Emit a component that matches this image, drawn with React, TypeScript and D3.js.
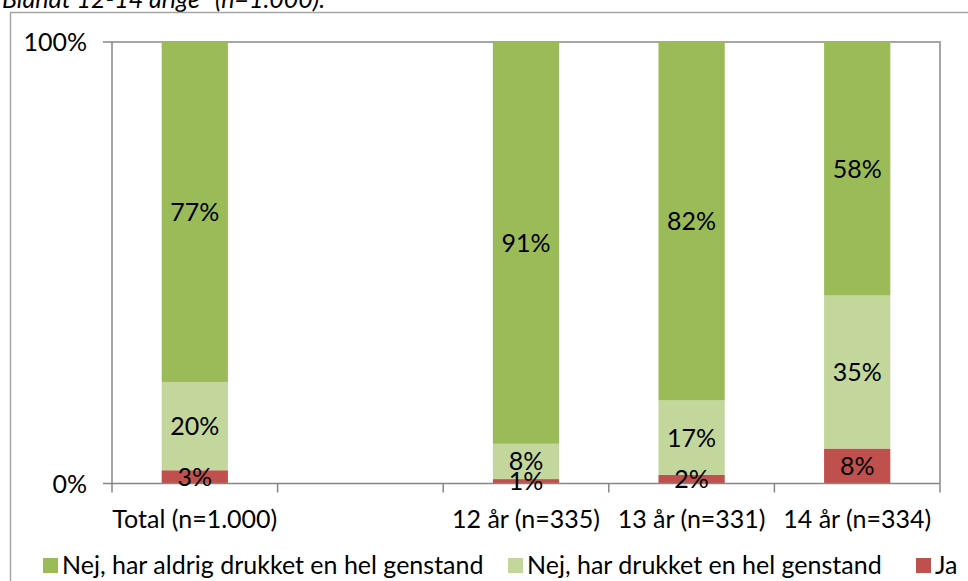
import React from "react";
import * as d3 from "d3";

const categories = ["Total (n=1.000)", "", "12 år (n=335)", "13 år (n=331)", "14 år (n=334)"];
const seriesNames = ["Ja", "Nej, har drukket en hel genstand", "Nej, har aldrig drukket en hel genstand"];
const jaValues = [3, 0, 1, 2, 8];
const drukketValues = [20, 0, 8, 17, 35];
const aldrigValues = [77, 0, 91, 82, 58];
const seriesColors = ["#C0504D", "#C3D69B", "#9BBB59"];
const yTickLabels = ["0%", "100%"];
const titleText = "Blandt 12-14 årige* (n=1.000).";

const W = 968;
const H = 581;
const M = { left: 112, right: 940, top: 42, bottom: 483.5 };
const FONT = "Lato, 'Open Sans', sans-serif";
const FS = 25;

export default function App() {
  const rows = categories.map((c, i) => ({
    cat: c,
    s0: jaValues[i],
    s1: drukketValues[i],
    s2: aldrigValues[i],
  }));
  const keys = ["s0", "s1", "s2"];
  const labelVals = [jaValues, drukketValues, aldrigValues];
  const stacked = d3.stack<any>().keys(keys).offset(d3.stackOffsetExpand)(rows);

  const x = d3.scaleBand<string>()
    .domain(categories.map((c, i) => i + ":" + c))
    .range([M.left, M.right])
    .paddingInner(0.6)
    .paddingOuter(0.3);
  const y = d3.scaleLinear().domain([0, 1]).range([M.bottom, M.top]);
  const step = x.step();
  const boundaries = d3.range(categories.length + 1).map((i) => M.left + i * step);

  const legendOrder = [2, 1, 0];
  const legendX = [43, 508, 916];

  return (
    <svg width={W} height={H} style={{ position: "absolute", left: 0, top: 0 }}>
      <rect x={0} y={0} width={W} height={H} fill="#fff" />
      <text x={2} y={8} fontFamily={FONT} fontStyle="italic" fontSize={FS} fill="#000">
        {titleText}
      </text>
      {/* outer chart frame */}
      <path d={`M10.5,${H + 5} V12.5 H${W + 5}`} fill="none" stroke="#A6A6A6" strokeWidth={1.5} />
      {/* plot area border */}
      <path d={`M${M.left},${M.top} H${M.right} V${M.bottom}`} fill="none" stroke="#A6A6A6" strokeWidth={2} />
      {/* bars */}
      {stacked.map((layer, si) => (
        <g key={si}>
          {layer.map((d, i) => {
            const total = jaValues[i] + drukketValues[i] + aldrigValues[i];
            if (!total) return null;
            const key = i + ":" + categories[i];
            const x0 = x(key)!;
            const y0 = y(d[0]);
            const y1 = y(d[1]);
            return (
              <rect key={i} x={x0} y={y1} width={x.bandwidth()} height={y0 - y1} fill={seriesColors[si]} />
            );
          })}
        </g>
      ))}
      {/* axes */}
      <line x1={M.left} x2={M.left} y1={M.top} y2={M.bottom} stroke="#868686" strokeWidth={1.5} />
      <line x1={M.left} x2={M.right} y1={M.bottom} y2={M.bottom} stroke="#868686" strokeWidth={1.5} />
      {[0, 1].map((v, i) => (
        <g key={i}>
          <line x1={M.left - 9} x2={M.left} y1={y(v)} y2={y(v)} stroke="#868686" strokeWidth={1.5} />
          <text x={87} y={y(v)} dy="0.36em" textAnchor="end" fontFamily={FONT} fontSize={FS} fill="#000">
            {yTickLabels[i]}
          </text>
        </g>
      ))}
      {boundaries.map((bx, i) => (
        <line key={i} x1={bx} x2={bx} y1={M.bottom} y2={M.bottom + 9} stroke="#868686" strokeWidth={1.5} />
      ))}
      {categories.map((c, i) => (
        <text
          key={i}
          x={x(i + ":" + c)! + x.bandwidth() / 2}
          y={528}
          textAnchor="middle"
          fontFamily={FONT}
          fontSize={FS}
          fill="#000"
        >
          {c}
        </text>
      ))}
      {/* data labels */}
      {stacked.map((layer, si) => (
        <g key={"l" + si}>
          {layer.map((d, i) => {
            const total = jaValues[i] + drukketValues[i] + aldrigValues[i];
            if (!total) return null;
            const key = i + ":" + categories[i];
            const cy = (y(d[0]) + y(d[1])) / 2;
            return (
              <text
                key={i}
                x={x(key)! + x.bandwidth() / 2}
                y={cy}
                dy="0.36em"
                textAnchor="middle"
                fontFamily={FONT}
                fontSize={FS}
                fill="#000"
              >
                {labelVals[si][i] + "%"}
              </text>
            );
          })}
        </g>
      ))}
      {/* legend */}
      {legendOrder.map((si, k) => (
        <g key={k}>
          <rect x={legendX[k]} y={558} width={15} height={15} fill={seriesColors[si]} />
          <text x={legendX[k] + 19} y={574} fontFamily={FONT} fontSize={FS} fill="#000">
            {seriesNames[si]}
          </text>
        </g>
      ))}
    </svg>
  );
}
